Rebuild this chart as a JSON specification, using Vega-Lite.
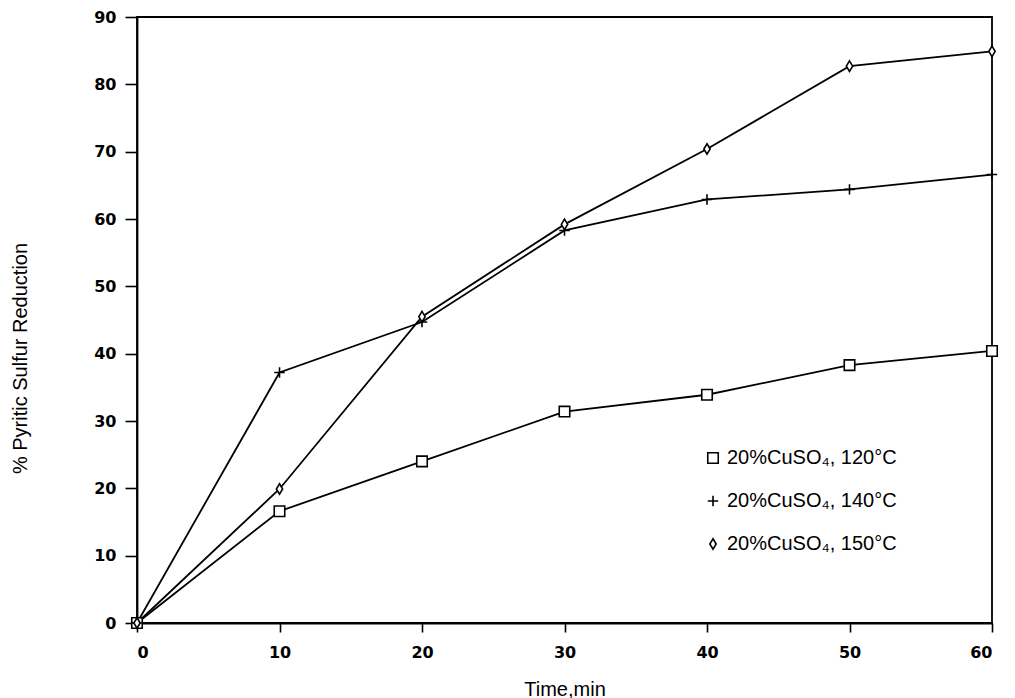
{
  "$schema": "https://vega.github.io/schema/vega-lite/v6.json",
  "width": 855,
  "height": 606,
  "autosize": {"type": "none"},
  "padding": {"left": 137, "top": 17, "right": 23, "bottom": 75},
  "background": "white",
  "config": {
    "view": {"stroke": "black", "strokeWidth": 1.8},
    "axis": {
      "grid": false,
      "domainColor": "black",
      "domainWidth": 1.8,
      "tickColor": "black",
      "tickWidth": 1.6,
      "labelColor": "black",
      "titleColor": "black",
      "labelFont": "DejaVu Sans",
      "labelFontWeight": "bold",
      "labelFontSize": 16,
      "titleFont": "Liberation Sans",
      "titleFontWeight": "normal",
      "titleFontSize": 20
    }
  },
  "data": {
    "values": [
      {"series": "20%CuSO₄, 120°C", "time": 0, "reduction": 0},
      {"series": "20%CuSO₄, 120°C", "time": 10, "reduction": 16.6},
      {"series": "20%CuSO₄, 120°C", "time": 20, "reduction": 24.0},
      {"series": "20%CuSO₄, 120°C", "time": 30, "reduction": 31.4},
      {"series": "20%CuSO₄, 120°C", "time": 40, "reduction": 33.9},
      {"series": "20%CuSO₄, 120°C", "time": 50, "reduction": 38.3},
      {"series": "20%CuSO₄, 120°C", "time": 60, "reduction": 40.4},
      {"series": "20%CuSO₄, 140°C", "time": 0, "reduction": 0},
      {"series": "20%CuSO₄, 140°C", "time": 10, "reduction": 37.2},
      {"series": "20%CuSO₄, 140°C", "time": 20, "reduction": 44.7},
      {"series": "20%CuSO₄, 140°C", "time": 30, "reduction": 58.3},
      {"series": "20%CuSO₄, 140°C", "time": 40, "reduction": 62.9},
      {"series": "20%CuSO₄, 140°C", "time": 50, "reduction": 64.4},
      {"series": "20%CuSO₄, 140°C", "time": 60, "reduction": 66.6},
      {"series": "20%CuSO₄, 150°C", "time": 0, "reduction": 0},
      {"series": "20%CuSO₄, 150°C", "time": 10, "reduction": 19.9},
      {"series": "20%CuSO₄, 150°C", "time": 20, "reduction": 45.5},
      {"series": "20%CuSO₄, 150°C", "time": 30, "reduction": 59.2},
      {"series": "20%CuSO₄, 150°C", "time": 40, "reduction": 70.4},
      {"series": "20%CuSO₄, 150°C", "time": 50, "reduction": 82.7},
      {"series": "20%CuSO₄, 150°C", "time": 60, "reduction": 84.9}
    ]
  },
  "encoding": {
    "x": {
      "field": "time",
      "type": "quantitative",
      "scale": {"domain": [0, 60], "nice": false},
      "axis": {
        "values": [0, 10, 20, 30, 40, 50, 60],
        "tickSize": 9,
        "labelPadding": 12,
        "title": "Time,min",
        "titleY": 72,
        "titleBaseline": "alphabetic"
      }
    },
    "y": {
      "field": "reduction",
      "type": "quantitative",
      "scale": {"domain": [0, 90], "nice": false},
      "axis": {
        "values": [0, 10, 20, 30, 40, 50, 60, 70, 80, 90],
        "tickSize": 12,
        "labelPadding": 9,
        "title": "% Pyritic Sulfur Reduction",
        "titleX": -117,
        "titleY": 341,
        "titleAngle": -90,
        "titleAlign": "center",
        "titleBaseline": "middle"
      }
    }
  },
  "layer": [
    {
      "mark": {"type": "line", "color": "black", "strokeWidth": 1.8},
      "encoding": {"detail": {"field": "series"}}
    },
    {
      "mark": {"type": "point", "filled": false, "fill": "white", "fillOpacity": 1, "strokeWidth": 1.6, "size": 110, "opacity": 1},
      "encoding": {
        "color": {
          "field": "series",
          "type": "nominal",
          "scale": {
            "domain": ["20%CuSO₄, 120°C", "20%CuSO₄, 140°C", "20%CuSO₄, 150°C"],
            "range": ["black", "black", "black"]
          },
          "legend": {
            "orient": "none",
            "legendX": 566,
            "legendY": 431,
            "title": null,
            "padding": 0,
            "labelFont": "Liberation Sans",
            "labelFontSize": 20,
            "labelColor": "black",
            "labelLimit": 400,
            "labelOffset": 4,
            "rowPadding": 23,
            "symbolSize": 110,
            "symbolStrokeWidth": 1.6
          }
        },
        "shape": {
          "field": "series",
          "type": "nominal",
          "scale": {
            "domain": ["20%CuSO₄, 120°C", "20%CuSO₄, 140°C", "20%CuSO₄, 150°C"],
            "range": ["square", "M-1,0L1,0M0,-1L0,1", "M0,-1L0.6,0L0,1L-0.6,0Z"]
          },
          "legend": {
            "orient": "none",
            "legendX": 566,
            "legendY": 431,
            "title": null,
            "padding": 0,
            "labelFont": "Liberation Sans",
            "labelFontSize": 20,
            "labelColor": "black",
            "labelLimit": 400,
            "labelOffset": 4,
            "rowPadding": 23,
            "symbolSize": 110,
            "symbolStrokeWidth": 1.6
          }
        }
      }
    }
  ]
}
